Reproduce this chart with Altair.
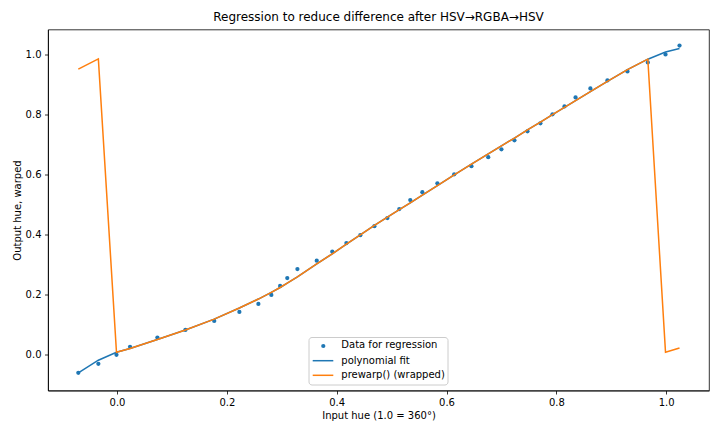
import altair as alt
import pandas as pd

# ---- data ----
x_in = [-0.0705, -0.034, -0.001, 0.0237, 0.0735, 0.1245, 0.177, 0.2228, 0.2574, 0.281,
        0.297, 0.310, 0.3285, 0.3637, 0.392, 0.4177, 0.443, 0.4687, 0.4924, 0.514,
        0.534, 0.556, 0.5834, 0.614, 0.6454, 0.676, 0.700, 0.7237, 0.7474, 0.771,
        0.793, 0.8148, 0.835, 0.862, 0.893, 0.9295, 0.9666, 0.9988, 1.0243]

y_data = [-0.061, -0.031, -0.001, 0.0256, 0.0566, 0.082, 0.112, 0.142, 0.1687, 0.1987,
          0.2286, 0.255, 0.285, 0.3128, 0.3428, 0.3717, 0.398, 0.428, 0.455, 0.485,
          0.515, 0.5414, 0.571, 0.601, 0.628, 0.658, 0.6845, 0.7145, 0.7444, 0.771,
          0.801, 0.8276, 0.8575, 0.8875, 0.914, 0.944, 0.974, 1.0007, 1.0306]

y_fit = [-0.061, -0.019, 0.0077, 0.020, 0.050, 0.082, 0.118, 0.155, 0.185, 0.2075,
         0.2235, 0.238, 0.259, 0.302, 0.336, 0.368, 0.399, 0.4307, 0.458, 0.483,
         0.506, 0.532, 0.563, 0.599, 0.635, 0.669, 0.696, 0.722, 0.749, 0.775,
         0.800, 0.824, 0.847, 0.877, 0.911, 0.950, 0.985, 1.009, 1.0205]

y_prewarp = [0.952, 0.986, 0.0077, 0.020, 0.050, 0.082, 0.118, 0.155, 0.185, 0.2075,
             0.2235, 0.238, 0.259, 0.302, 0.336, 0.368, 0.399, 0.4307, 0.458, 0.483,
             0.506, 0.532, 0.563, 0.599, 0.635, 0.669, 0.696, 0.722, 0.749, 0.775,
             0.800, 0.824, 0.847, 0.877, 0.911, 0.950, 0.985, 0.0077, 0.022]

tick_vals = [0.0, 0.2, 0.4, 0.6, 0.8, 1.0]
legend_labels = ["Data for regression", "polynomial fit", "prewarp() (wrapped)"]
title_text = "Regression to reduce difference after HSV\u2192RGBA\u2192HSV"
x_title = "Input hue (1.0 = 360\u00b0)"
y_title = "Output hue, warped"

BLUE = "#1f77b4"
ORANGE = "#ff7f0e"
FONT = "DejaVu Sans"

df_pts = pd.DataFrame({"x": x_in, "y": y_data})
df_fit = pd.DataFrame({"x": x_in, "y": y_fit})
df_warp = pd.DataFrame({"x": x_in, "y": y_prewarp})

xs = alt.Scale(domain=[-0.1257, 1.078], nice=False, zero=False)
ys = alt.Scale(domain=[-0.12, 1.084], nice=False, zero=False)

X = alt.X("x:Q", scale=xs, title=x_title,
          axis=alt.Axis(values=tick_vals, format=".1f"))
Y = alt.Y("y:Q", scale=ys, title=y_title,
          axis=alt.Axis(values=tick_vals, format=".1f"))

pts = alt.Chart(df_pts).mark_circle(size=18, color=BLUE, opacity=1).encode(x=X, y=Y)
fit = alt.Chart(df_fit).mark_line(color=BLUE, strokeWidth=1.5).encode(x=X, y=Y)
warp = alt.Chart(df_warp).mark_line(color=ORANGE, strokeWidth=1.5).encode(x=X, y=Y)

# ---- legend box (matplotlib style) ----
one = pd.DataFrame({"k": [0]})
lx0, lx1, ly0, ly1 = 261, 400, 308, 355.5
rows = [315.5, 331.2, 345.8]
box = alt.Chart(one).mark_rect(fill="white", fillOpacity=0.8, stroke="#cccccc",
                               strokeWidth=1, cornerRadius=3).encode(
    x=alt.value(lx0), x2=alt.value(lx1), y=alt.value(ly0), y2=alt.value(ly1))
leg_pt = alt.Chart(one).mark_circle(size=18, color=BLUE, opacity=1).encode(
    x=alt.value(275.3), y=alt.value(rows[0] + 1))
leg_l1 = alt.Chart(one).mark_rule(color=BLUE, strokeWidth=1.5).encode(
    x=alt.value(264.7), x2=alt.value(285.3), y=alt.value(rows[1]))
leg_l2 = alt.Chart(one).mark_rule(color=ORANGE, strokeWidth=1.5).encode(
    x=alt.value(264.7), x2=alt.value(285.3), y=alt.value(rows[2]))
leg_texts = [
    alt.Chart(one).mark_text(text=lab, align="left", baseline="middle", font=FONT,
                             fontSize=10, color="black").encode(
        x=alt.value(293.3), y=alt.value(ry))
    for lab, ry in zip(legend_labels, rows)
]

chart = alt.layer(pts, fit, warp, box, leg_pt, leg_l1, leg_l2, *leg_texts).properties(
    width=661, height=361,
    title=alt.Title(title_text, font=FONT, fontSize=12, fontWeight="normal",
                    color="black", offset=6),
    padding={"left": 40, "top": 21.5, "right": 3, "bottom": 34},
    autosize=alt.AutoSizeParams(type="none"),
    background="white",
).configure_view(
    stroke="black", strokeWidth=0.8
).configure_axis(
    grid=False, domainColor="black", domainWidth=0.8, tickColor="black",
    tickSize=3.5, tickWidth=0.8, labelFont=FONT, labelFontSize=10,
    labelColor="black", labelPadding=3.5, titleFont=FONT, titleFontSize=10,
    titleFontWeight="normal", titleColor="black", titlePadding=3,
)

chart.save("out.html", embed_options={"renderer": "svg", "actions": False})
